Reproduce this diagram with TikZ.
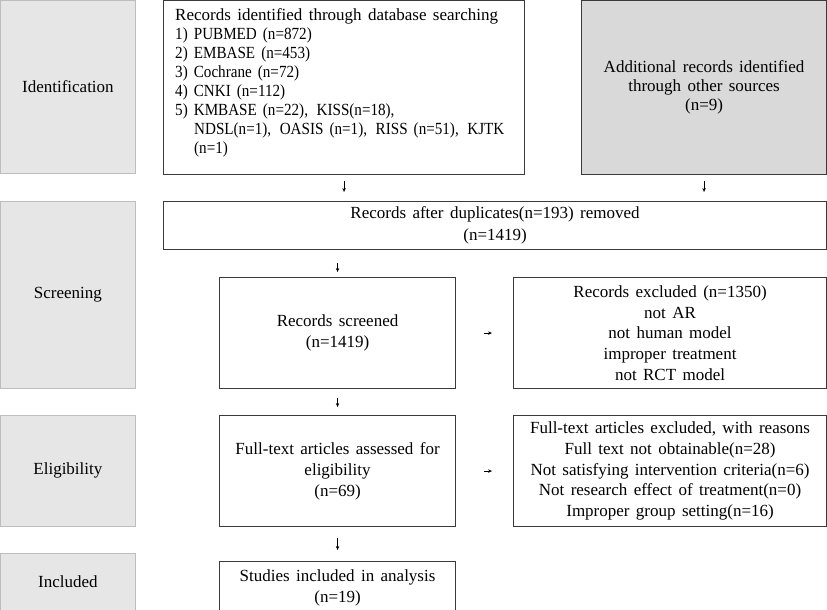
\documentclass[tikz,border=0pt]{standalone}
\usepackage{fontspec}
\setmainfont[WordSpace=1.5]{Liberation Serif}
\newfontfamily\narrowfont[FakeStretch=0.89, WordSpace=1.6]{Liberation Serif}
\usetikzlibrary{arrows.meta}
\definecolor{lblfill}{HTML}{E6E6E6}
\definecolor{lbldraw}{HTML}{BDBDBD}
\definecolor{addfill}{HTML}{D9D9D9}
\definecolor{boxdraw}{HTML}{3A3A3A}
\tikzset{
  lbl/.style={draw=lbldraw, fill=lblfill, line width=0.8pt, anchor=north west, inner sep=0pt, align=center, font=\fontsize{17}{20.5}\selectfont},
  flowbox/.style={draw=boxdraw, fill=white, line width=1.1pt, anchor=north west, inner sep=0pt, align=center, font=\fontsize{17}{20.8}\selectfont},
  arr/.style={-{Stealth[length=4pt,width=3.5pt]}, line width=0.9pt, black},
}
\begin{document}
\begin{tikzpicture}[x=1pt,y=-1pt]
\useasboundingbox (0,0) rectangle (827,610);
% stage labels
\node[lbl, minimum width=135pt, minimum height=173pt] (lid) at (0,0) {Identification};
\node[lbl, minimum width=135pt, minimum height=187pt] (lsc) at (0,201) {Screening};
\node[lbl, minimum width=135pt, minimum height=111pt] (lel) at (0,415) {Eligibility};
\node[lbl, minimum width=135pt, minimum height=57pt] (lin) at (0,553) {Included};
% boxes
\node[flowbox, minimum width=361pt, minimum height=174pt] (db) at (163,0) {};
\node[anchor=north west, inner sep=0pt, align=left, font=\fontsize{17}{19}\selectfont] (dbtext) at (175,8) {Records identified through database searching\\
{\narrowfont 1) PUBMED (n=872)}\\
{\narrowfont 2) EMBASE (n=453)}\\
{\narrowfont 3) Cochrane (n=72)}\\
{\narrowfont 4) CNKI (n=112)}\\
{\narrowfont 5) KMBASE (n=22),\hspace{0.15em} KISS(n=18),}\\
\hspace*{19pt}{\narrowfont NDSL(n=1),\hspace{0.15em} OASIS (n=1),\hspace{0.15em} RISS (n=51),\hspace{0.15em} KJTK}\\
\hspace*{19pt}{\narrowfont (n=1)}};
\node[flowbox, fill=addfill, minimum width=245pt, minimum height=174pt, font=\fontsize{17}{18.8}\selectfont] (add) at (581,0) {Additional records identified\\through other sources\\(n=9)};
\node[flowbox, minimum width=663pt, minimum height=48pt, font=\fontsize{17}{22}\selectfont] (dup) at (163,201) {Records after duplicates(n=193) removed\\(n=1419)};
\node[flowbox, minimum width=236pt, minimum height=111pt] (scr) at (219,277) {Records screened\\(n=1419)};
\node[flowbox, minimum width=313pt, minimum height=111pt] (exc) at (513,277) {Records excluded (n=1350)\\not AR\\not human model\\improper treatment\\not RCT model};
\node[flowbox, minimum width=236pt, minimum height=111pt] (ft) at (219,415) {Full-text articles assessed for\\eligibility\\(n=69)};
\node[flowbox, minimum width=313pt, minimum height=111pt] (ftx) at (513,415) {Full-text articles excluded, with reasons\\Full text not obtainable(n=28)\\Not satisfying intervention criteria(n=6)\\Not research effect of treatment(n=0)\\Improper group setting(n=16)};
\node[flowbox, minimum width=236pt, minimum height=49pt, text depth=-2pt] (inc) at (219,561) {Studies included in analysis\\(n=19)};
% arrows
\draw[arr, shorten <=6pt, shorten >=9pt] (db.south) -- (db.south |- dup.north);
\draw[arr, shorten <=6pt, shorten >=9pt] (add.south) -- (add.south |- dup.north);
\draw[arr, shorten <=13pt, shorten >=5pt] (scr.north |- dup.south) -- (scr.north);
\draw[arr, shorten <=28pt, shorten >=21pt] (scr.east) -- (exc.west);
\draw[arr, shorten <=9pt, shorten >=8pt] (scr.south) -- (ft.north);
\draw[arr, shorten <=28pt, shorten >=21pt] (ft.east) -- (ftx.west);
\draw[arr, shorten <=11pt, shorten >=11pt] (ft.south) -- (inc.north);
\end{tikzpicture}
\end{document}
